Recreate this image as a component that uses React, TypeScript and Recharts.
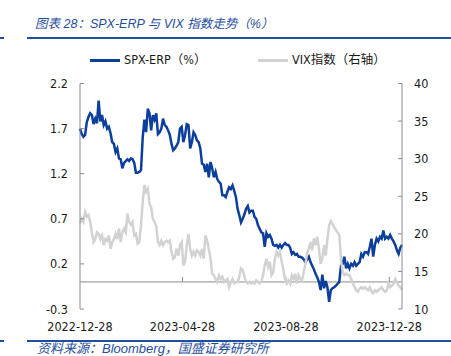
import React from 'react'
import {
  ComposedChart,
  Line,
  XAxis,
  YAxis,
  ReferenceLine,
} from 'recharts'

// Sampled every 2 calendar days starting on the first tick date
const START_DATE = '2022-12-28'
const STEP_DAYS = 2
const DAY_MS = 86400000

const TICK_DATES = ['2022-12-28', '2023-04-28', '2023-08-28', '2023-12-28']
const LEFT_TICKS = [-0.3, 0.2, 0.7, 1.2, 1.7, 2.2]
const RIGHT_TICKS = [10, 15, 20, 25, 30, 35, 40]

// SPX-ERP (%), left axis
const ERP = [
  1.70, 1.64, 1.61, 1.63, 1.77, 1.83, 1.87, 1.85, 1.75, 1.81, 1.76, 2.01, 1.78, 1.85, 1.74, 1.78,
  1.70, 1.72, 1.65, 1.55, 1.53, 1.44, 1.48, 1.37, 1.36, 1.26, 1.32, 1.34, 1.36, 1.34, 1.37, 1.36,
  1.32, 1.21, 1.21, 1.22, 1.24, 1.60, 1.80, 1.66, 1.92, 1.87, 1.68, 1.85, 1.80, 1.87,
  1.64, 1.66, 1.70, 1.81, 1.74, 1.72, 1.68, 1.63, 1.53, 1.46, 1.48, 1.51, 1.55, 1.70, 1.72, 1.55,
  1.63, 1.75, 1.74, 1.48, 1.55, 1.66, 1.63, 1.57, 1.55, 1.48, 1.31, 1.30, 1.22, 1.31, 1.16, 1.33,
  1.26, 1.16, 1.22, 1.14, 1.11, 1.09, 0.96, 0.96, 0.94, 1.00, 1.05, 1.03, 1.07, 1.01, 0.94,
  0.81, 0.74, 0.66, 0.70, 0.75, 0.81, 0.84, 0.77, 0.79, 0.79, 0.72, 0.70, 0.63, 0.59, 0.55, 0.54,
  0.39, 0.54, 0.50, 0.52, 0.48, 0.41, 0.40, 0.41, 0.38, 0.41, 0.38, 0.41, 0.43, 0.41, 0.41, 0.38,
  0.31, 0.33, 0.30, 0.31, 0.28, 0.28, 0.27, 0.25, 0.22, 0.25, 0.28, 0.22, 0.18, 0.14, 0.09,
  0.05, 0.00, -0.09, 0.08, -0.07, 0.01, -0.06, -0.22, -0.09, -0.07, -0.06, -0.04, -0.02, 0.00,
  0.18, 0.20, 0.28, 0.15, 0.20, 0.15, 0.20, 0.18, 0.22, 0.18, 0.20, 0.22, 0.31, 0.28, 0.33, 0.33,
  0.31, 0.39, 0.48, 0.28, 0.41, 0.48, 0.45, 0.50, 0.48, 0.57, 0.48, 0.50, 0.48, 0.52, 0.48, 0.45,
  0.41, 0.35, 0.31, 0.38, 0.41,
]

// VIX index, right axis
const VIX = [
  21.4, 22.0, 21.6, 22.9, 22.3, 22.5, 21.6, 20.2, 18.9, 19.3, 20.2, 20.0, 19.3, 19.8, 18.5, 19.3,
  19.1, 19.8, 18.0, 18.9, 19.3, 20.0, 19.3, 20.7, 18.9, 20.2, 20.7, 20.2, 22.7, 21.6, 21.2, 21.6,
  19.8, 20.0, 18.7, 18.9, 21.2, 24.2, 26.5, 25.6, 26.0, 24.0, 23.5, 22.0, 21.6, 21.0,
  18.9, 18.5, 19.1, 18.5, 18.9, 19.1, 18.9, 19.1, 17.6, 16.7, 16.9, 18.0, 17.1, 18.5, 18.9, 15.8,
  16.3, 18.5, 20.0, 18.0, 17.1, 17.6, 17.1, 17.8, 17.6, 17.1, 18.0, 16.7, 19.8, 19.1, 18.0, 16.7,
  14.7, 14.5, 14.0, 13.6, 14.5, 14.0, 14.3, 13.6, 13.8, 14.0, 12.9, 13.6, 14.0, 13.4, 13.6,
  13.6, 14.3, 15.4, 15.2, 14.3, 13.6, 13.4, 13.6, 13.4, 13.6, 13.4, 13.8, 13.6, 13.4, 13.6, 14.5,
  15.8, 16.7, 15.6, 16.3, 14.5, 14.9, 16.7, 17.6, 17.1, 17.6, 16.3, 15.2, 14.0, 13.4, 13.8, 13.4,
  14.5, 14.0, 14.7, 13.4, 14.5, 14.0, 13.8, 14.9, 16.0, 17.4, 18.0, 18.9, 17.8, 19.4, 18.5,
  19.6, 18.0, 16.0, 16.7, 18.5, 17.1, 19.3, 21.1, 21.7, 21.3, 20.9, 20.5, 20.2, 19.8, 16.5, 14.9,
  14.5, 14.7, 14.5, 14.5, 14.0, 13.4, 12.9, 12.5, 12.3, 12.7, 12.9, 12.7, 12.9, 12.7, 12.5, 12.9,
  12.3, 12.1, 12.5, 12.3, 12.5, 12.7, 12.9, 12.5, 12.3, 12.5, 13.4, 12.9, 13.1, 13.4, 14.0, 13.6,
  13.1, 12.9, 12.5,
]

const ERP_COLOR = '#0b3f9b'
const VIX_COLOR = '#d2d2d2'
const AXIS_COLOR = '#8c8c8c'
const TITLE_COLOR = '#1f4e9e'
const FONT = "'DejaVu Sans Condensed', 'DejaVu Sans', 'Noto Sans CJK SC', sans-serif"
const CJK_FONT = "'Liberation Sans', 'Noto Sans CJK SC', sans-serif"

const TICK_GAP = 12
const TICK_LEN = 4

const startMs = Date.parse(START_DATE)
const chartData = ERP.map((erp, i) => ({
  t: startMs + i * STEP_DAYS * DAY_MS,
  erp,
  vix: VIX[i],
}))
const xTicks = TICK_DATES.map((d) => Date.parse(d))
const xDomain = [startMs, startMs + (ERP.length - 1) * STEP_DAYS * DAY_MS]

/**
 * Left tick: label plus a short inward tick mark
 */
function LeftTick(props: any) {
  const { x, y, payload } = props
  return (
    <g>
      <line x1={x + TICK_GAP} x2={x + TICK_GAP + TICK_LEN} y1={y} y2={y} stroke={AXIS_COLOR} />
      <text x={x} y={y} textAnchor="end" dominantBaseline="central" fill="#1a1a1a" fontSize={12.5} fontFamily={FONT}>
        {Number(payload.value).toFixed(1)}
      </text>
    </g>
  )
}

function RightTick(props: any) {
  const { x, y, payload } = props
  return (
    <g>
      <line x1={x - TICK_GAP} x2={x - TICK_GAP - TICK_LEN} y1={y} y2={y} stroke={AXIS_COLOR} />
      <text x={x} y={y} textAnchor="start" dominantBaseline="central" fill="#1a1a1a" fontSize={12.5} fontFamily={FONT}>
        {payload.value}
      </text>
    </g>
  )
}

function formatDate(v: number): string {
  return new Date(v).toISOString().slice(0, 10)
}

function RuleLine({ top }: { top: number }) {
  return (
    <>
      <div style={{ position: 'absolute', left: 0, top, width: 4, height: 2, background: TITLE_COLOR }} />
      <div style={{ position: 'absolute', left: 27, top, width: 424, height: 2, background: TITLE_COLOR }} />
    </>
  )
}

export default function App() {
  return (
    <div style={{ position: 'absolute', left: 0, top: 0, width: 451, height: 356, background: '#fff', overflow: 'hidden' }}>
      {/* Title */}
      <div
        style={{
          position: 'absolute', left: 35, top: 15, fontSize: 12.5, lineHeight: '18px',
          fontStyle: 'italic', color: TITLE_COLOR, fontFamily: CJK_FONT, whiteSpace: 'nowrap',
        }}
      >
        图表 28：SPX-ERP 与 VIX 指数走势（%）
      </div>
      <RuleLine top={37} />

      {/* Legend */}
      <div style={{ position: 'absolute', left: 90, top: 59, width: 30, height: 3, background: ERP_COLOR }} />
      <div style={{ position: 'absolute', left: 124, top: 51, fontSize: 12.5, lineHeight: '18px', fontFamily: FONT, color: '#1a1a1a', whiteSpace: 'nowrap' }}>
        SPX-ERP（%）
      </div>
      <div style={{ position: 'absolute', left: 258, top: 59, width: 30, height: 3, background: VIX_COLOR }} />
      <div style={{ position: 'absolute', left: 292, top: 51, fontSize: 12.5, lineHeight: '18px', fontFamily: FONT, color: '#1a1a1a', whiteSpace: 'nowrap' }}>
        VIX指数（右轴）
      </div>

      <div style={{ position: 'absolute', left: 0, top: 0 }}>
        <ComposedChart
          width={451}
          height={356}
          data={chartData}
          margin={{ top: 83.5, right: 9, bottom: 27, left: 40 }}
        >
          <XAxis
            dataKey="t"
            type="number"
            domain={xDomain}
            ticks={xTicks}
            tickFormatter={formatDate}
            axisLine={false}
            tickLine={false}
            tickSize={0}
            tickMargin={13}
            height={20}
            interval={0}
            tick={{ fill: '#1a1a1a', fontSize: 12.5, fontFamily: FONT }}
          />
          <YAxis
            yAxisId="left"
            orientation="left"
            width={40}
            domain={[-0.3, 2.2]}
            ticks={LEFT_TICKS}
            interval={0}
            axisLine={{ stroke: AXIS_COLOR }}
            tickLine={false}
            tickSize={0}
            tickMargin={TICK_GAP}
            tick={<LeftTick />}
          />
          <YAxis
            yAxisId="right"
            orientation="right"
            width={40}
            domain={[10, 40]}
            ticks={RIGHT_TICKS}
            interval={0}
            axisLine={{ stroke: AXIS_COLOR }}
            tickLine={false}
            tickSize={0}
            tickMargin={TICK_GAP}
            tick={<RightTick />}
          />

          {/* Zero line with short upward tick marks at the date ticks */}
          <ReferenceLine yAxisId="left" y={0} stroke={AXIS_COLOR} strokeWidth={1} />
          {xTicks.slice(1).map((t) => (
            <ReferenceLine
              key={t}
              yAxisId="left"
              segment={[{ x: t, y: 0 }, { x: t, y: 0.055 }]}
              stroke={AXIS_COLOR}
            />
          ))}

          <Line
            yAxisId="left"
            dataKey="erp"
            type="linear"
            stroke={ERP_COLOR}
            strokeWidth={2.5}
            dot={false}
            isAnimationActive={false}
          />
          <Line
            yAxisId="right"
            dataKey="vix"
            type="linear"
            stroke={VIX_COLOR}
            strokeWidth={2.5}
            dot={false}
            isAnimationActive={false}
          />
        </ComposedChart>
      </div>

      {/* Source */}
      <RuleLine top={340} />
      <div
        style={{
          position: 'absolute', left: 37, top: 342, fontSize: 13, lineHeight: '14px',
          fontStyle: 'italic', color: TITLE_COLOR, fontFamily: CJK_FONT, whiteSpace: 'nowrap',
        }}
      >
        资料来源：Bloomberg，国盛证券研究所
      </div>
    </div>
  )
}
